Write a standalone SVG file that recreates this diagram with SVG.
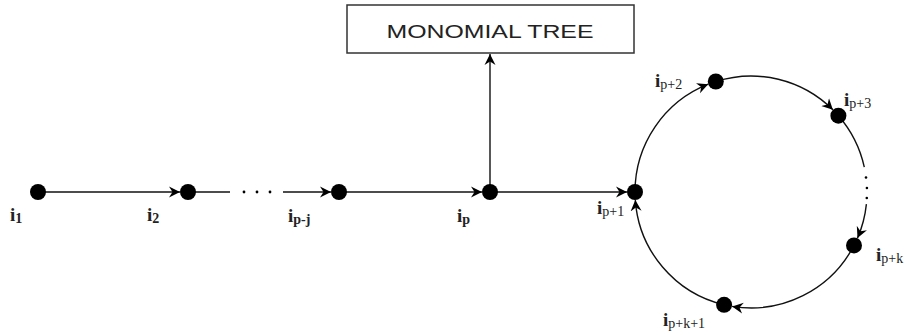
<svg xmlns="http://www.w3.org/2000/svg" width="907" height="335" viewBox="0 0 907 335">
  <style>
    .edge { fill: none; stroke: #111; stroke-width: 1.4; }
    .arrow { marker-end: url(#stealth); }
    .dot { fill: #000; }
    .lbl { font-family: "Liberation Serif", "Times New Roman", serif; font-size: 19px; font-weight: bold; fill: #222; }
    .sub { font-size: 14px; }
    .subr { font-size: 14px; font-weight: normal; }
    .box { fill: #fff; stroke: #333; stroke-width: 1.5; }
    .title { font-family: "Liberation Sans", Arial, sans-serif; font-size: 19px; fill: #222; }
  </style>
  <defs>
    <marker id="stealth" markerUnits="userSpaceOnUse" markerWidth="12" markerHeight="12" refX="11" refY="6" orient="auto">
      <path d="M0,0.5 L11,6 L0,11.5 L3.5,6 Z" fill="#000"/>
    </marker>
  </defs>

  <!-- connectors -->
  <g id="connectors">
    <line class="edge arrow" x1="38" y1="192" x2="180" y2="192"/>
    <line class="edge" x1="188" y1="192" x2="230" y2="192"/>
    <circle class="dot" cx="244" cy="192" r="1.4"/>
    <circle class="dot" cx="257" cy="192" r="1.4"/>
    <circle class="dot" cx="270" cy="192" r="1.4"/>
    <line class="edge arrow" x1="283" y1="192" x2="331" y2="192"/>
    <line class="edge arrow" x1="339" y1="192" x2="482" y2="192"/>
    <line class="edge arrow" x1="490" y1="192" x2="627" y2="192"/>
    <line class="edge arrow" x1="490" y1="192" x2="490" y2="54"/>

    <!-- cycle, centre (751,192), r 116 -->
    <path class="edge arrow" d="M635,192 A116,116 0 0 1 708.2,84.2"/>
    <path class="edge arrow" d="M715.8,81.5 A116,116 0 0 1 832.9,109.8"/>
    <path class="edge" d="M838.4,115.7 A116,116 0 0 1 864.3,167.1"/>
    <circle class="dot" cx="866" cy="177.5" r="1.3"/>
    <circle class="dot" cx="866.9" cy="188" r="1.3"/>
    <circle class="dot" cx="866.8" cy="198" r="1.3"/>
    <path class="edge arrow" d="M866.4,204.1 A116,116 0 0 1 857.5,238.1"/>
    <path class="edge arrow" d="M854,245.4 A116,116 0 0 1 732.1,306.4"/>
    <path class="edge arrow" d="M724.1,304.8 A116,116 0 0 1 635.3,200.1"/>
  </g>

  <g id="monomial-tree">
    <rect class="box" x="347" y="5" width="287" height="48"/>
    <text class="title" x="490" y="38" text-anchor="middle" textLength="207" lengthAdjust="spacingAndGlyphs">MONOMIAL TREE</text>
  </g>

  <g id="i1"><circle class="dot" cx="38" cy="192" r="8"/><text class="lbl" x="10" y="221">i<tspan class="sub" dy="2">1</tspan></text></g>
  <g id="i2"><circle class="dot" cx="188" cy="192" r="8"/><text class="lbl" x="147" y="221">i<tspan class="sub" dy="2">2</tspan></text></g>
  <g id="ipj"><circle class="dot" cx="339" cy="192" r="8"/><text class="lbl" x="288" y="222">i<tspan class="sub" dy="2">p-j</tspan></text></g>
  <g id="ip"><circle class="dot" cx="490" cy="192" r="8"/><text class="lbl" x="457" y="222">i<tspan class="sub" dy="2">p</tspan></text></g>
  <g id="ip1"><circle class="dot" cx="635" cy="192" r="8"/><text class="lbl" x="597" y="214">i<tspan class="subr" dy="2">p+1</tspan></text></g>
  <g id="ip2"><circle class="dot" cx="715.8" cy="81.5" r="8"/><text class="lbl" x="655" y="87">i<tspan class="subr" dy="2">p+2</tspan></text></g>
  <g id="ip3"><circle class="dot" cx="838.4" cy="115.7" r="8"/><text class="lbl" x="844" y="106">i<tspan class="subr" dy="2">p+3</tspan></text></g>
  <g id="ipk"><circle class="dot" cx="854" cy="245.4" r="8"/><text class="lbl" x="876" y="261">i<tspan class="subr" dy="2">p+k</tspan></text></g>
  <g id="ipk1"><circle class="dot" cx="724.1" cy="304.8" r="8"/><text class="lbl" x="663" y="326">i<tspan class="subr" dy="2">p+k+1</tspan></text></g>
</svg>
